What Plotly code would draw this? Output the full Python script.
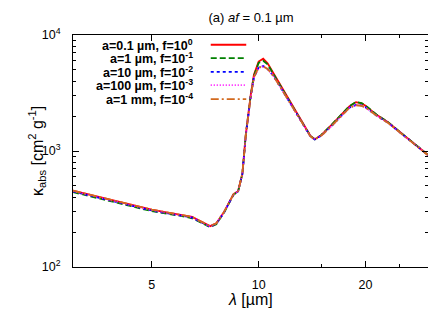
import plotly.graph_objects as go

# wavelength grid [micron]
lam = [3.0, 3.5, 4.0, 4.5, 5.0, 5.5, 6.0, 6.5, 7.0, 7.3, 7.6, 8.0, 8.5, 8.75, 9.0, 9.2,
       9.5, 9.7, 10.0, 10.3, 10.6, 11.0, 11.5, 12.0, 13.0, 14.0, 14.4, 15.0, 16.0, 17.0,
       18.0, 18.8, 19.5, 20.0, 21.6, 23.1, 25.0, 27.0, 30.0]

k_a01 = [455, 405, 368, 338, 312, 296, 284, 270, 240, 225, 238, 300, 425, 450, 640, 1380,
         3050, 4550, 5900, 6250, 5700, 4700, 3700, 2950, 1950, 1350, 1265, 1370, 1660, 2000,
         2420, 2640, 2580, 2460, 2030, 1780, 1460, 1205, 925]
k_a1 = [442, 393, 357, 328, 303, 288, 277, 263, 235, 221, 234, 296, 420, 445, 635, 1370,
        3000, 4450, 5750, 6000, 5600, 4650, 3680, 2950, 1950, 1345, 1262, 1370, 1665, 2010,
        2430, 2650, 2590, 2465, 2035, 1780, 1460, 1205, 925]
k_a10 = [448, 399, 362, 333, 307, 292, 280, 267, 237, 223, 236, 298, 422, 447, 630, 1350,
         2950, 4300, 5250, 5400, 5100, 4450, 3580, 2880, 1920, 1335, 1258, 1355, 1630, 1960,
         2360, 2500, 2470, 2380, 2000, 1760, 1450, 1200, 922]
k_a100 = [450, 401, 364, 335, 309, 293, 281, 268, 238, 224, 237, 299, 423, 448, 630, 1350,
          2950, 4300, 5200, 5350, 5080, 4430, 3570, 2870, 1915, 1333, 1256, 1350, 1625, 1955,
          2350, 2490, 2460, 2375, 1998, 1758, 1448, 1198, 921]
k_a1mm = [455, 405, 368, 338, 312, 296, 284, 270, 240, 225, 238, 300, 425, 450, 632, 1355,
          2960, 4320, 5250, 5380, 5100, 4440, 3575, 2875, 1918, 1335, 1258, 1352, 1628, 1958,
          2352, 2480, 2450, 2370, 1995, 1755, 1446, 1197, 920]

names = ["a=0.1 \u00b5m, f=10<sup>0</sup>", "a=1 \u00b5m, f=10<sup>-1</sup>",
         "a=10 \u00b5m, f=10<sup>-2</sup>", "a=100 \u00b5m, f=10<sup>-3</sup>",
         "a=1 mm, f=10<sup>-4</sup>"]
series = [k_a01, k_a1, k_a10, k_a100, k_a1mm]
colors = ["#ff0000", "#008000", "#0000ff", "#ff00ff", "#d2691e"]
dashes = ["solid", "6px,3px", "3px,3px", "1px,2px", "8px,3px,2px,3px"]

xticks = [5, 10, 20]
xminor = [15, 25]
yticks = [100, 1000, 10000]
yticktext = ["10<sup>2</sup>", "10<sup>3</sup>", "10<sup>4</sup>"]
yminor = [m * d for d in (100, 1000) for m in range(2, 10)]

fig = go.Figure()
for name, ys, c, d in zip(names, series, colors, dashes):
    fig.add_trace(go.Scatter(x=lam, y=ys, mode="lines", name=name,
                             line=dict(color=c, dash=d, width=1.8), showlegend=False))

# legend drawn gnuplot-style: text right-aligned, sample line to the right
leg_y = [0.958, 0.900, 0.841, 0.784, 0.724]
for name, c, d, yy in zip(names, colors, dashes, leg_y):
    fig.add_annotation(x=0.344, y=yy, xref="paper", yref="paper", text="<b>" + name + "</b>",
                       showarrow=False, xanchor="right", yanchor="middle",
                       font=dict(size=12.5, color="black"))
    fig.add_shape(type="line", xref="paper", yref="paper", x0=0.388, x1=0.488, y0=yy, y1=yy,
                  line=dict(color=c, dash=d, width=1.8))

# axis titles
fig.add_annotation(x=0.5, y=0, xref="paper", yref="paper", yshift=-32,
                   text="<i>\u03bb</i> [\u00b5m]", showarrow=False,
                   xanchor="center", yanchor="middle", font=dict(size=16, color="black"))
fig.add_annotation(x=0, y=0.5, xref="paper", yref="paper", xshift=-36,
                   text="\u03ba<sub>abs</sub> [cm<sup>2</sup> g<sup>-1</sup>]", textangle=-90,
                   showarrow=False, xanchor="center", yanchor="middle",
                   font=dict(size=16, color="black"))

axis_common = dict(showline=True, linecolor="black", linewidth=1, mirror="ticks",
                   ticks="inside", ticklen=6, tickcolor="black", showgrid=False,
                   zeroline=False, tickfont=dict(size=12.5, color="black"))

fig.update_xaxes(type="log", range=[0.4771, 1.4771], tickmode="array", tickvals=xticks,
                 ticktext=[str(v) for v in xticks], ticklabelstandoff=6,
                 minor=dict(tickvals=xminor, ticks="inside", ticklen=3, tickcolor="black"),
                 **axis_common)
fig.update_yaxes(type="log", range=[2, 4], tickmode="array", tickvals=yticks,
                 ticktext=yticktext, ticklabelstandoff=9,
                 minor=dict(tickvals=yminor, ticks="inside", ticklen=3, tickcolor="black"),
                 **axis_common)

fig.update_layout(
    width=436, height=327,
    margin=dict(l=65, r=16, t=27, b=68),
    paper_bgcolor="white", plot_bgcolor="white",
    font=dict(family="Liberation Sans, Arial, sans-serif", color="black"),
    title=dict(text="(a) <i>af</i> = 0.1 \u00b5m", x=0.5575, xanchor="center", y=0.97,
               yanchor="middle", font=dict(size=13, color="black")),
)

fig.write_html("out.html")
